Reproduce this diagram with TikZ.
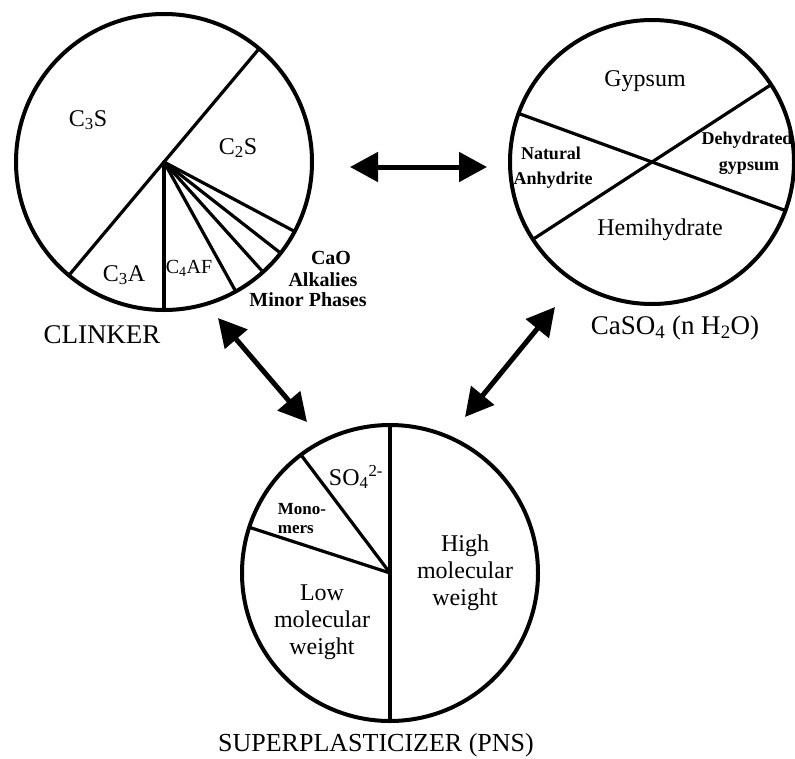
\documentclass[tikz,border=0pt]{standalone}
\usepackage{fontspec}
\setmainfont{Liberation Serif}
\usetikzlibrary{arrows.meta}
\begin{document}
\begin{tikzpicture}[x=1pt,y=-1pt,
  pie/.style={draw, circle, line width=4pt, outer sep=0pt, inner sep=0pt},
  seg/.style={line width=3.2pt, line cap=round},
  big/.style={font=\fontsize{27}{29}\selectfont, inner sep=0pt},
  lab/.style={font=\fontsize{24}{27}\selectfont, inner sep=0pt, align=center},
  sml/.style={font=\bfseries\fontsize{20}{22}\selectfont, inner sep=0pt, align=center},
  tiny/.style={font=\bfseries\fontsize{17}{19}\selectfont, inner sep=0pt, align=left},
  dbl/.style={line width=5pt, {Triangle[length=28pt,width=29pt]}-{Triangle[length=28pt,width=29pt]}}]
\useasboundingbox (0,0) rectangle (795,758);

% ---------- CLINKER ----------
\node[pie, minimum size=296pt] (clk) at (164,162) {};
\draw[seg] (clk.50) -- (clk.230);
\draw[seg] (clk.center) -- (clk.270);
\draw[seg] (clk.center) -- (clk.299);
\draw[seg] (clk.center) -- (clk.312);
\draw[seg] (clk.center) -- (clk.322);
\draw[seg] (clk.center) -- (clk.332);
\node[lab] (c3s) at (88,120) {C\textsubscript{3}S};
\node[lab] (c2s) at (238,148) {C\textsubscript{2}S};
\node[lab] (c3a) at (124,275) {C\textsubscript{3}A};
\node[lab, font=\fontsize{20}{22}\selectfont] (c4af) at (189,268) {C\textsubscript{4}AF};
\node[sml] (cao) at (331,258) {CaO};
\node[sml] (alk) at (323,280) {Alkalies};
\node[sml] (minor) at (308,300) {Minor Phases};
\node[big] (clinker) at (102,335) {CLINKER};

% ---------- CaSO4 ----------
\node[pie, minimum size=284pt] (cas) at (652,162) {};
\draw[seg] (cas.160.6) -- (cas.340.6);
\draw[seg] (cas.33.7) -- (cas.213.7);
\node[lab] (gyp) at (645,81) {Gypsum};
\node[sml, font=\bfseries\fontsize{18}{21}\selectfont] (nat) at (551,153) {Natural};
\node[sml, font=\bfseries\fontsize{18}{21}\selectfont] (anh) at (553,180) {Anhydrite};
\node[sml, font=\bfseries\fontsize{18}{21}\selectfont] (deh) at (747,140) {Dehydrated};
\node[sml, font=\bfseries\fontsize{18}{21}\selectfont] (dgyp) at (749,168) {gypsum};
\node[lab] (hemi) at (660,230) {Hemihydrate};
\node[big] (caso4) at (675,328) {CaSO\textsubscript{4} (n H\textsubscript{2}O)};

% ---------- SUPERPLASTICIZER ----------
\node[pie, minimum size=296pt] (sp) at (390,573) {};
\draw[seg] (sp.90) -- (sp.270);
\draw[seg] (sp.center) -- (sp.127);
\draw[seg] (sp.center) -- (sp.162);
\node[lab] (so4) at (356,477) {SO\textsubscript{4}\textsuperscript{2-}};
\node[tiny] (mono) at (302,519) {Mono-\\mers};
\node[lab] (low) at (322,622) {Low\\molecular\\weight};
\node[lab] (high) at (465,573) {High\\molecular\\weight};
\node[big, font=\fontsize{26}{28}\selectfont] (spl) at (376,745) {SUPERPLASTICIZER (PNS)};

% ---------- arrows ----------
\coordinate (h1) at (350,167);
\coordinate (h2) at (487,167);
\coordinate (l1) at (218,318);
\coordinate (l2) at (307,422);
\coordinate (r1) at (555,307);
\coordinate (r2) at (465,417);
\draw[dbl] (h1) -- (h2);
\draw[dbl] (l1) -- (l2);
\draw[dbl] (r1) -- (r2);
\end{tikzpicture}
\end{document}
